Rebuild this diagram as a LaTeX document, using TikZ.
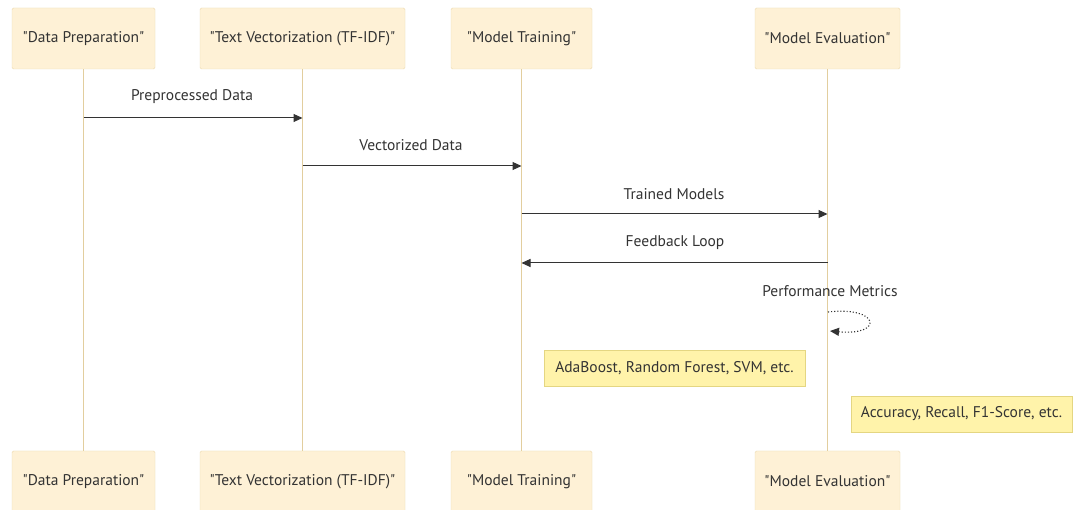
\documentclass[tikz,border=0pt]{standalone}
\usepackage{fontspec}
\setmainfont{PT Sans}[Ligatures=TeXOff]
\usetikzlibrary{arrows.meta}
\definecolor{actfill}{RGB}{254,241,214}
\definecolor{actdraw}{RGB}{236,218,176}
\definecolor{lifeline}{RGB}{226,206,158}
\definecolor{notefill}{RGB}{255,243,170}
\definecolor{notedraw}{RGB}{228,214,130}
\definecolor{ink}{RGB}{51,51,51}
\tikzset{
  actor/.style={draw=actdraw, fill=actfill, rounded corners=1.5pt, minimum height=61pt,
    font=\fontsize{15.5}{17}\selectfont, text=ink, inner sep=0pt},
  note/.style={draw=notedraw, fill=notefill, minimum height=36pt, inner sep=0pt,
    font=\fontsize{15.5}{17}\selectfont, text=ink},
  msg/.style={draw=ink, line width=1pt, -{Triangle[length=9pt,width=8pt]}},
  msglabel/.style={font=\fontsize{15.5}{17}\selectfont, text=ink},
  life/.style={draw=lifeline, line width=1.5pt}
}
\begin{document}
\begin{tikzpicture}[x=1pt,y=-1pt]
  \useasboundingbox[fill=white] (0,0) rectangle (1080,510);

  %% participants, top
  \node[actor, minimum width=143pt] (dp) at (83.5,38.5) {"Data Preparation"};
  \node[actor, minimum width=205pt] (tv) at (302.5,38.5) {"Text Vectorization (TF-IDF)"};
  \node[actor, minimum width=141pt] (mt) at (521.5,38.5) {"Model Training"};
  \node[actor, minimum width=145pt] (me) at (827.5,38.5) {"Model Evaluation"};

  %% participants, bottom
  \node[actor, minimum width=143pt] (dpb) at (83.5,481.5) {"Data Preparation"};
  \node[actor, minimum width=205pt] (tvb) at (302.5,481.5) {"Text Vectorization (TF-IDF)"};
  \node[actor, minimum width=141pt] (mtb) at (521.5,481.5) {"Model Training"};
  \node[actor, minimum width=145pt] (meb) at (827.5,481.5) {"Model Evaluation"};

  %% lifelines
  \draw[life] (dp.south) -- (dpb.north);
  \draw[life] (tv.south) -- (tvb.north);
  \draw[life] (mt.south) -- (mtb.north);
  \draw[life] (me.south) -- (meb.north);

  %% messages
  \coordinate (a1) at (dp.south |- 0,118);
  \coordinate (b1) at (tv.south |- 0,118);
  \coordinate (a2) at (tv.south |- 0,166);
  \coordinate (b2) at (mt.south |- 0,166);
  \coordinate (a3) at (mt.south |- 0,214);
  \coordinate (b3) at (me.south |- 0,214);
  \coordinate (a4) at (me.south |- 0,263);
  \coordinate (b4) at (mt.south |- 0,263);

  \draw[msg] (a1) -- (b1);
  \node[msglabel] (l1) at (192,97) {Preprocessed Data};
  \draw[msg] (a2) -- (b2);
  \node[msglabel] (l2) at (411,145) {Vectorized Data};
  \draw[msg] (a3) -- (b3);
  \node[msglabel] (l3) at (674,194) {Trained Models};
  \draw[msg] (a4) -- (b4);
  \node[msglabel] (l4) at (675,243) {Feedback Loop};

  %% self message
  \node[msglabel] (l5) at (830,291) {Performance Metrics};
  \coordinate (s1) at (828,312);
  \coordinate (s2) at (830,331);
  \draw[draw=ink, line width=1.1pt, dotted, -{Triangle[length=9pt,width=8pt]}]
    (s1) .. controls (880,306) and (884,336) .. (s2);

  %% notes
  \node[note, minimum width=261pt] (n1) at (674.5,368) {AdaBoost, Random Forest, SVM, etc.};
  \node[note, minimum width=221pt] (n2) at (961.5,414) {Accuracy, Recall, F1-Score, etc.};
\end{tikzpicture}
\end{document}
